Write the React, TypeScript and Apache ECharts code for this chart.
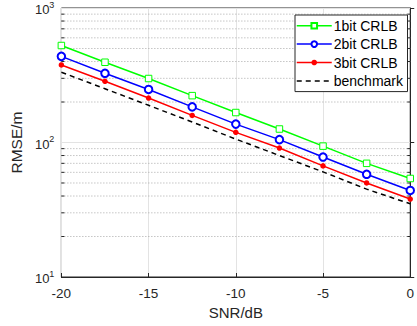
import React, { useEffect, useRef } from "react";
import * as echarts from "echarts";

const snr = [-20, -17.5, -15, -12.5, -10, -7.5, -5, -2.5, 0];
const crlb1 = [526, 395, 299, 223, 167, 126, 94, 70, 54];
const crlb2 = [437, 327, 248, 184, 137, 105, 78, 58, 44];
const crlb3 = [377, 285, 214, 159, 119, 91, 67, 50, 38];
const benchmark = [333, 251, 189, 142, 106, 80, 60.5, 45, 35];
const minorGrid = [20, 30, 40, 50, 60, 70, 80, 90, 200, 300, 400, 500, 600, 700, 800, 900];
const X_MIN = -20;
const X_MAX = 0;
const TICK = 0.17; // minor tick length in dB units

const FONT = "Liberation Sans, Arial, sans-serif";

export default function App() {
  const ref = useRef<HTMLDivElement>(null);
  useEffect(() => {
    const chart = echarts.init(ref.current!, null, { renderer: "svg" });
    const pairs = (ys: number[]) => snr.map((x, i) => [x, ys[i]]);
    const minorSeries: any[] = [];
    minorGrid.forEach((v, i) => {
      minorSeries.push({
        name: "minor-grid-" + i,
        type: "line",
        data: [[X_MIN, v], [X_MAX, v]],
        symbol: "none",
        silent: true,
        z: 1,
        lineStyle: { type: [1, 2], color: "#a8a8a8", width: 1 },
      });
      minorSeries.push({
        name: "minor-tick-l-" + i,
        type: "line",
        data: [[X_MIN, v], [X_MIN + TICK, v]],
        symbol: "none",
        silent: true,
        z: 2,
        lineStyle: { type: "solid", color: "#262626", width: 1 },
      });
      minorSeries.push({
        name: "minor-tick-r-" + i,
        type: "line",
        data: [[X_MAX - TICK, v], [X_MAX, v]],
        symbol: "none",
        silent: true,
        z: 2,
        lineStyle: { type: "solid", color: "#262626", width: 1 },
      });
    });
    chart.setOption({
      animation: false,
      backgroundColor: "#fff",
      textStyle: { fontFamily: FONT },
      grid: {
        left: 61,
        top: 5,
        right: 0,
        bottom: 49,
        show: true,
        borderColor: "#262626",
        borderWidth: 1,
        backgroundColor: "transparent",
      },
      legend: {
        data: [
          { name: "1bit CRLB", lineStyle: { type: "solid", color: "#00ff00", width: 1.5 } },
          { name: "2bit CRLB", lineStyle: { type: "solid", color: "#0000ff", width: 1.5 } },
          { name: "3bit CRLB", lineStyle: { type: "solid", color: "#ff0000", width: 1.5 } },
          {
            name: "benchmark",
            lineStyle: { type: [5, 4], color: "#000", width: 1.5 },
            itemStyle: { opacity: 0 },
          },
        ],
        orient: "vertical",
        left: 295,
        top: 15,
        itemWidth: 35,
        itemHeight: 7,
        itemGap: 4.4,
        padding: [3.7, 4.5, 3.7, 1],
        borderColor: "#262626",
        borderWidth: 1,
        backgroundColor: "#fff",
        textStyle: { fontSize: 14, color: "#000", fontFamily: FONT, padding: [0, 0, 0, -3] },
      },
      xAxis: {
        type: "value",
        min: X_MIN,
        max: X_MAX,
        interval: 5,
        name: "SNR/dB",
        nameLocation: "middle",
        nameGap: 27,
        nameTextStyle: { fontSize: 15, color: "#262626", fontFamily: FONT },
        axisLine: { show: true, lineStyle: { color: "#262626" } },
        axisTick: { show: true, inside: true, length: 4, lineStyle: { color: "#262626" } },
        axisLabel: { fontSize: 13.5, color: "#262626", margin: 9, fontFamily: FONT },
        splitLine: { show: true, lineStyle: { color: "#e3e3e3", width: 1 } },
      },
      yAxis: {
        type: "log",
        logBase: 10,
        min: 10,
        max: 1000,
        name: "RMSE/m",
        nameLocation: "middle",
        nameGap: 36,
        nameTextStyle: { fontSize: 15.5, color: "#262626", fontFamily: FONT },
        axisLine: { show: true, lineStyle: { color: "#262626" } },
        axisTick: { show: true, inside: true, length: 4, lineStyle: { color: "#262626" } },
        axisLabel: {
          margin: 7,
          color: "#262626",
          formatter: (v: number) => `{b|10}{s|${Math.round(Math.log10(v))}}`,
          rich: {
            b: { fontSize: 13, color: "#262626", fontFamily: FONT, lineHeight: 16, verticalAlign: "bottom" },
            s: { fontSize: 9, color: "#262626", fontFamily: FONT, lineHeight: 16, verticalAlign: "top" },
          },
        },
        splitLine: { show: true, lineStyle: { color: "#e3e3e3", width: 1 } },
      },
      series: [
        ...minorSeries,
        {
          name: "1bit CRLB",
          type: "line",
          data: pairs(crlb1),
          z: 3,
          symbol: "rect",
          symbolSize: 6.5,
          lineStyle: { color: "#00ff00", width: 1.5 },
          itemStyle: { color: "#fff", borderColor: "#00ff00", borderWidth: 1 },
          color: "#00ff00",
        },
        {
          name: "2bit CRLB",
          type: "line",
          data: pairs(crlb2),
          z: 3,
          symbol: "emptyCircle",
          symbolSize: 7.5,
          lineStyle: { color: "#0000ff", width: 1.5 },
          itemStyle: { color: "#0000ff", borderColor: "#0000ff", borderWidth: 1.3 },
          color: "#0000ff",
        },
        {
          name: "3bit CRLB",
          type: "line",
          data: pairs(crlb3),
          z: 3,
          symbol: "circle",
          symbolSize: 5.5,
          lineStyle: { color: "#ff0000", width: 1.5 },
          itemStyle: { color: "#ff0000" },
          color: "#ff0000",
        },
        {
          name: "benchmark",
          type: "line",
          data: pairs(benchmark),
          z: 3,
          symbol: "none",
          lineStyle: { color: "#000", width: 1.5, type: [5, 4] },
          itemStyle: { color: "#000" },
          color: "#000",
        },
      ],
    });
    return () => chart.dispose();
  }, []);
  return (
    <div
      ref={ref}
      style={{ position: "absolute", left: 0, top: 0, width: 417, height: 326 }}
    />
  );
}
